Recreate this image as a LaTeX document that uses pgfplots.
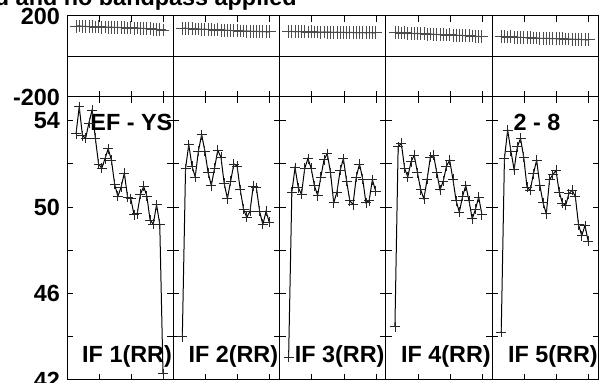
\documentclass[border=0pt]{standalone}
\usepackage{fontspec}
\setmainfont{Liberation Sans}
\usepackage{pgfplots}
\pgfplotsset{compat=1.18}
\usepackage{pgfplotstable}

\newcommand{\lbl}{\bfseries\fontsize{11.7}{14}\selectfont}

\pgfplotstableread{
x    t1  t2  t3  t4  t5  b1    b2    b3    b4    b5
1.4  150 139 123 118 98  53.40 44.00 43.05 44.46 44.20
1.9  151 140 124 119 99  54.65 51.78 50.70 52.79 52.25
2.4  148 137 122 116 96  53.30 52.90 51.83 52.95 53.57
2.9  149 138 123 117 97  53.20 51.90 50.90 51.80 52.60
3.4  147 136 122 115 95  53.90 51.40 50.60 51.40 51.74
3.9  148 136 122 115 95  54.50 52.60 51.80 52.10 52.79
4.4  146 134 121 113 94  53.20 53.36 52.25 52.40 53.18
4.9  147 135 122 114 94  52.00 52.60 51.80 51.60 52.30
5.4  145 133 121 112 92  51.80 51.60 51.00 50.80 50.93
5.9  146 133 121 112 93  52.25 51.00 50.54 50.39 50.78
6.4  144 131 120 110 91  52.70 51.80 51.40 51.30 51.55
6.9  145 132 121 111 91  52.17 52.64 52.20 52.30 52.17
7.4  143 130 120 109 90  51.05 52.30 52.48 52.40 51.00
7.9  144 130 120 109 90  50.50 51.10 51.60 51.60 50.20
8.4  142 129 119 108 89  50.93 50.40 50.20 50.80 49.69
8.9  143 129 120 108 89  51.58 51.20 50.70 51.20 51.27
9.4  141 127 119 106 88  50.47 52.00 51.70 51.90 51.50
9.9  142 128 119 107 88  50.40 51.90 52.25 52.17 51.70
10.4 140 126 118 105 87  49.66 50.80 51.20 51.30 50.70
10.9 141 126 119 105 87  49.70 49.90 50.30 50.30 50.19
11.4 139 125 118 104 86  50.60 49.53 50.12 49.77 50.08
11.9 139 125 118 104 86  50.96 49.80 51.40 50.50 50.62
12.4 137 124 118 102 85  50.50 50.96 52.00 51.00 50.78
12.9 137 124 118 102 85  49.40 50.90 51.30 50.30 50.50
13.4 135 123 117 101 84  49.22 49.80 50.20 49.46 49.19
13.9 134 123 118 100 84  50.12 49.20 50.30 49.90 48.68
14.4 133 122 117 99  83  49.20 49.80 51.27 50.47 49.15
14.9 131 122 117 98  82  42.30 49.30 50.75 49.66 48.42
}\data

\pgfplotsset{
  panel/.style={
    scale only axis, width=53.15pt, anchor=north west,
    xmin=0, xmax=16.5, xtick={5,10,15}, xticklabels={},
    axis line style={line width=0.5pt},
    every tick/.style={black, line width=0.5pt},
    major tick length=3pt,
    /pgf/number format/assume math mode=true,
    tick label style={font=\lbl},
  },
  toppanel/.style={panel, height=40.5pt, ymin=-200, ymax=200,
    ytick={-200,0,200}, ymajorgrids, grid style={black, line width=0.5pt}},
  botpanel/.style={panel, height=141.5pt, ymin=42, ymax=55.1,
    ytick={42,44,...,54}},
  tdat/.style={black, line width=0.5pt, mark=+, mark size=3.2pt,
    mark options={line width=0.4pt, black!70}},
  bdat/.style={black, line width=0.5pt, mark=+, mark size=2.5pt,
    mark options={line width=0.4pt, black!85}},
}

\begin{document}
\begin{tikzpicture}
% top row
\begin{axis}[toppanel, at={(33.5pt,-8pt)}, yticklabels={-200,,\raisebox{-1.5pt}{200}}]
\addplot[tdat] table[x=x,y=t1]{\data};
\end{axis}
\begin{axis}[toppanel, at={(86.65pt,-8pt)}, yticklabels={}]
\addplot[tdat] table[x=x,y=t2]{\data};
\end{axis}
\begin{axis}[toppanel, at={(139.8pt,-8pt)}, yticklabels={}]
\addplot[tdat] table[x=x,y=t3]{\data};
\end{axis}
\begin{axis}[toppanel, at={(192.95pt,-8pt)}, yticklabels={}]
\addplot[tdat] table[x=x,y=t4]{\data};
\end{axis}
\begin{axis}[toppanel, at={(246.1pt,-8pt)}, yticklabels={}]
\addplot[tdat] table[x=x,y=t5]{\data};
\end{axis}
% bottom row
\begin{axis}[botpanel, at={(33.5pt,-48.5pt)}, yticklabels={42,,46,,50,,54}]
\addplot[bdat] table[x=x,y=b1]{\data};
\node[anchor=base west, font=\lbl, inner sep=0pt] at (axis cs:3.57,53.57) {EF - YS};
\node[anchor=base west, font=\lbl, inner sep=0pt] at (axis cs:2.3,42.83) {IF 1(RR)};
\end{axis}
\begin{axis}[botpanel, at={(86.65pt,-48.5pt)}, yticklabels={}]
\addplot[bdat] table[x=x,y=b2]{\data};
\node[anchor=base west, font=\lbl, inner sep=0pt] at (axis cs:2.3,42.83) {IF 2(RR)};
\end{axis}
\begin{axis}[botpanel, at={(139.8pt,-48.5pt)}, yticklabels={}]
\addplot[bdat] table[x=x,y=b3]{\data};
\node[anchor=base west, font=\lbl, inner sep=0pt] at (axis cs:2.3,42.83) {IF 3(RR)};
\end{axis}
\begin{axis}[botpanel, at={(192.95pt,-48.5pt)}, yticklabels={}]
\addplot[bdat] table[x=x,y=b4]{\data};
\node[anchor=base west, font=\lbl, inner sep=0pt] at (axis cs:2.3,42.83) {IF 4(RR)};
\end{axis}
\begin{axis}[botpanel, at={(246.1pt,-48.5pt)}, yticklabels={}]
\addplot[bdat] table[x=x,y=b5]{\data};
\node[anchor=base west, font=\lbl, inner sep=0pt] at (axis cs:3.26,53.57) {2 - 8};
\node[anchor=base west, font=\lbl, inner sep=0pt] at (axis cs:2.4,42.83) {IF 5(RR)};
\end{axis}
\node[anchor=base east, font=\lbl, inner sep=0pt] at (148.5pt,-3pt) {Uncalibrated and no bandpass applied};
\pgfresetboundingbox
\path[use as bounding box] (0pt,0pt) rectangle (300pt,-191.5pt);
\end{tikzpicture}
\end{document}
